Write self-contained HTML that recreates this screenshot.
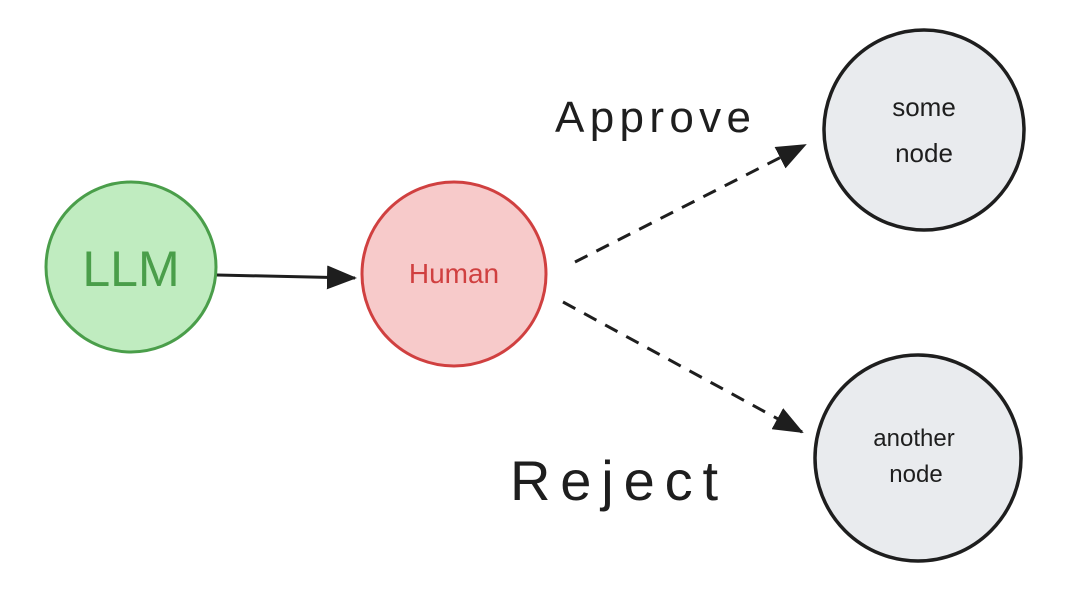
<!DOCTYPE html>
<html><head><meta charset="utf-8"><style>
html,body{margin:0;padding:0;background:#fff;width:1080px;height:604px;overflow:hidden}
svg{display:block}
text{font-family:"Liberation Sans","DejaVu Sans",sans-serif}
</style></head><body>
<svg width="1080" height="604" viewBox="0 0 1080 604">
<defs>
<marker id="ah" markerWidth="10" markerHeight="10" refX="8" refY="5" orient="auto" markerUnits="userSpaceOnUse" viewBox="0 0 10 10">
<path d="M0,0 L10,5 L0,10 z" fill="#1e1e1e"/></marker>
<marker id="ah2" markerWidth="30" markerHeight="24" refX="28" refY="12" orient="auto" markerUnits="userSpaceOnUse">
<path d="M0,0 L30,12 L0,24 z" fill="#1e1e1e"/></marker>
</defs>
<circle cx="131" cy="267" r="85" fill="#c0ecc0" stroke="#4a9e4a" stroke-width="3"/>
<text x="131" y="286" text-anchor="middle" font-size="50" fill="#4a9e4a">LLM</text>
<circle cx="454" cy="274" r="92" fill="#f7caca" stroke="#d04040" stroke-width="3"/>
<text x="454" y="283" text-anchor="middle" font-size="28" fill="#d04040">Human</text>
<circle cx="924" cy="130" r="100" fill="#e9ebee" stroke="#1e1e1e" stroke-width="3.5"/>
<text x="924" y="116" text-anchor="middle" font-size="26" fill="#1e1e1e">some</text>
<text x="924" y="162" text-anchor="middle" font-size="26" fill="#1e1e1e">node</text>
<circle cx="918" cy="458" r="103" fill="#e9ebee" stroke="#1e1e1e" stroke-width="3.5"/>
<text x="914" y="446" text-anchor="middle" font-size="24" fill="#1e1e1e">another</text>
<text x="916" y="482" text-anchor="middle" font-size="24" fill="#1e1e1e">node</text>
<line x1="217" y1="275" x2="355" y2="278" stroke="#1e1e1e" stroke-width="3" marker-end="url(#ah2)"/>
<line x1="575" y1="262" x2="805" y2="145" stroke="#1e1e1e" stroke-width="3" stroke-dasharray="14 10" marker-end="url(#ah2)"/>
<line x1="563" y1="302" x2="802" y2="432" stroke="#1e1e1e" stroke-width="3" stroke-dasharray="14 10" marker-end="url(#ah2)"/>
<text x="555" y="132" font-size="44" fill="#1e1e1e" textLength="196">Approve</text>
<text x="510" y="500" font-size="56" fill="#1e1e1e" textLength="208">Reject</text>
</svg>
</body></html>
